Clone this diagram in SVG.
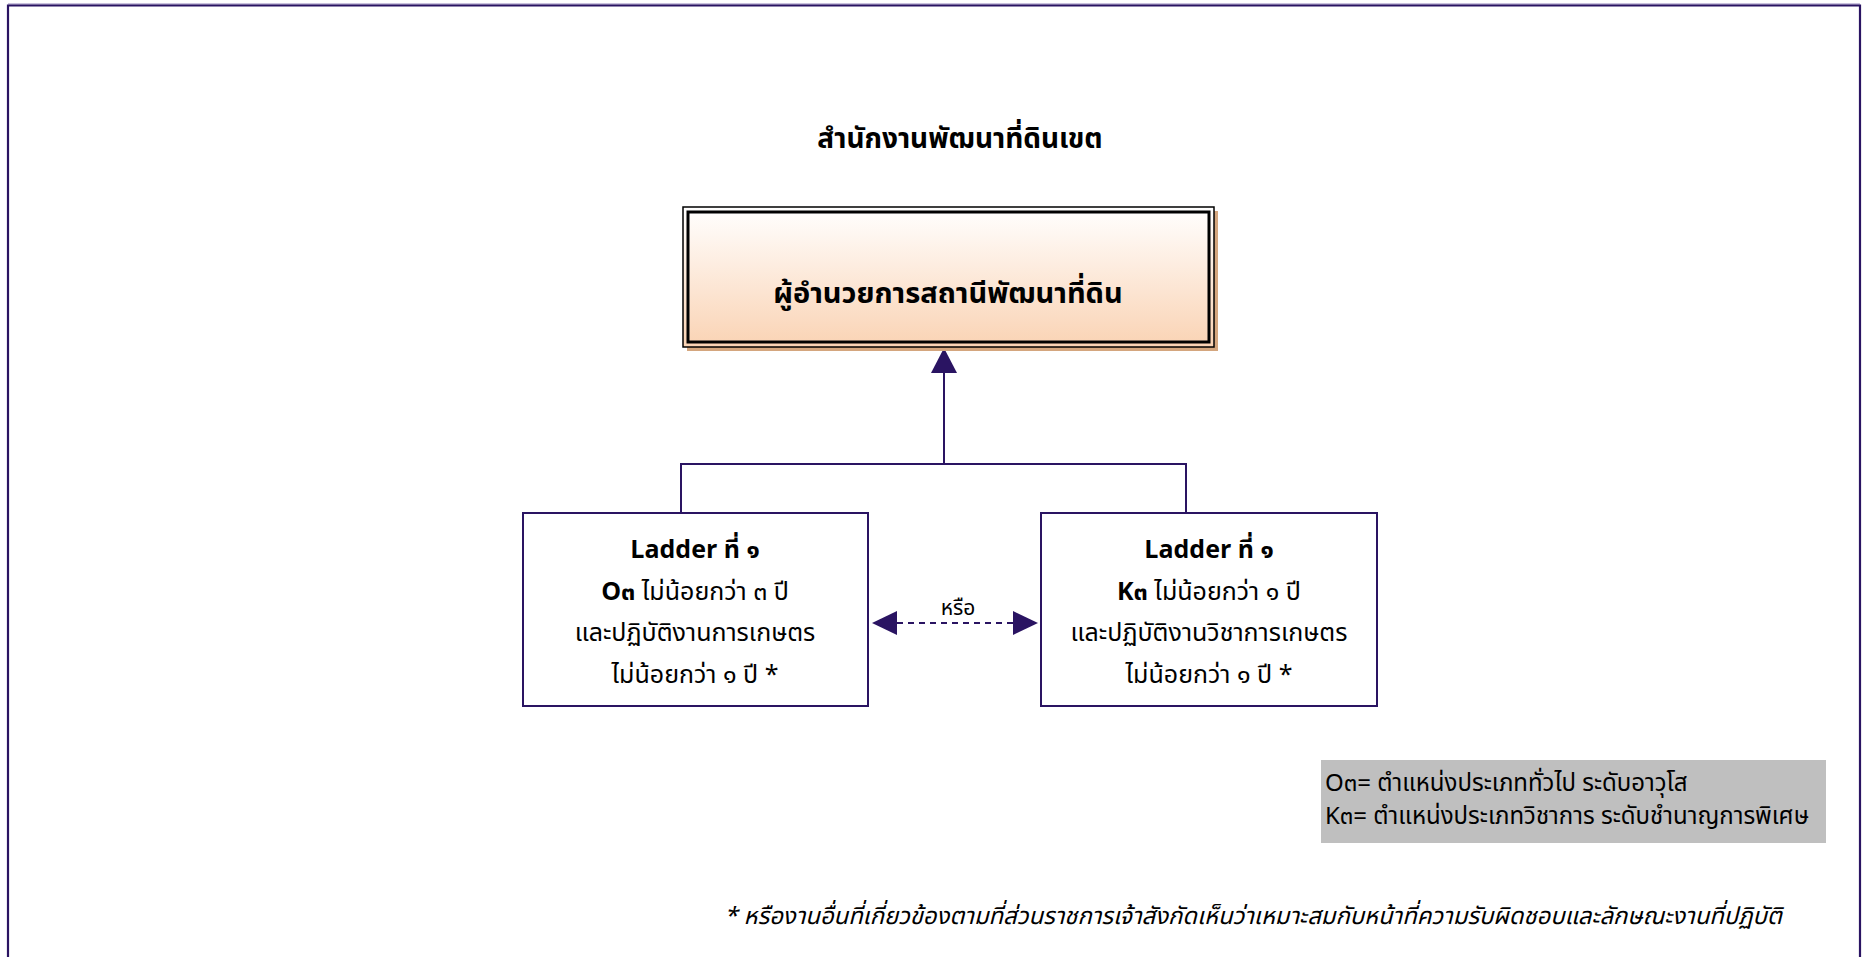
<svg xmlns="http://www.w3.org/2000/svg" width="1863" height="957" viewBox="0 0 1863 957">
<defs>
<linearGradient id="peach" x1="0" y1="0" x2="0" y2="1">
<stop offset="0" stop-color="#FFFFFF"/>
<stop offset="1" stop-color="#FAD3B4"/>
</linearGradient>
<style>
text{font-family:"Noto Sans Thai","Noto Sans","DejaVu Sans",sans-serif;fill:#000}
.b{font-weight:bold}
.box{fill:#fff;stroke:#2A1462;stroke-width:2}
.ln{fill:none;stroke:#2A1462;stroke-width:2}
.c{text-anchor:middle}
.t{font-size:25px}
</style>
</defs>
<rect x="0" y="0" width="1863" height="957" fill="#fff"/>
<g id="frame">
<line x1="8" y1="4" x2="1860" y2="4" stroke="#B9AED3" stroke-width="1.5"/>
<path d="M8,957 V5.5 H1860 V957" fill="none" stroke="#2A1462" stroke-width="2.2"/>
</g>
<g id="title">
<text x="960" y="148" class="b c" font-size="28">สำนักงานพัฒนาที่ดินเขต</text>
</g>
<g id="connectors">
<line x1="944" y1="465" x2="944" y2="350" class="ln"/>
<path d="M944,348 L957,373 L931,373 Z" fill="#2A1462"/>
<path d="M681,513 V464 H1186 V513" class="ln"/>
<line x1="897" y1="623" x2="1013" y2="623" stroke="#2A1462" stroke-width="2" stroke-dasharray="6,5"/>
<path d="M872,623 L897,611 L897,635 Z" fill="#2A1462"/>
<path d="M1038,623 L1013,611 L1013,635 Z" fill="#2A1462"/>
<text x="958" y="615" class="c" font-size="21">หรือ</text>
</g>
<g id="director">
<rect x="687" y="211" width="531" height="140" fill="#D4A67E"/>
<rect x="683" y="207" width="531" height="140" fill="url(#peach)" stroke="#000" stroke-width="1.5"/>
<rect x="688" y="212" width="521" height="130" fill="none" stroke="#000" stroke-width="3"/>
<text x="948" y="303" class="b c" font-size="29">ผู้อำนวยการสถานีพัฒนาที่ดิน</text>
</g>
<g id="ladderO">
<rect x="523" y="513" width="345" height="193" class="box"/>
<text x="695" y="558" class="c t b">Ladder ที่ ๑</text>
<text x="695" y="600" class="c t"><tspan class="b">O๓</tspan> ไม่น้อยกว่า ๓ ปี</text>
<text x="695" y="641" class="c t">และปฏิบัติงานการเกษตร</text>
<text x="695" y="683" class="c t">ไม่น้อยกว่า ๑ ปี *</text>
</g>
<g id="ladderK">
<rect x="1041" y="513" width="336" height="193" class="box"/>
<text x="1209" y="558" class="c t b">Ladder ที่ ๑</text>
<text x="1209" y="600" class="c t"><tspan class="b">K๓</tspan> ไม่น้อยกว่า ๑ ปี</text>
<text x="1209" y="641" class="c t">และปฏิบัติงานวิชาการเกษตร</text>
<text x="1209" y="683" class="c t">ไม่น้อยกว่า ๑ ปี *</text>
</g>
<g id="legend">
<rect x="1321" y="760" width="505" height="83" fill="#BFBFBF"/>
<text x="1325" y="791" font-size="24">O๓= ตำแหน่งประเภททั่วไป ระดับอาวุโส</text>
<text x="1325" y="824" font-size="24">K๓= ตำแหน่งประเภทวิชาการ ระดับชำนาญการพิเศษ</text>
</g>
<g id="footnote">
<text x="1782" y="924" font-size="23.8" font-style="italic" text-anchor="end">* หรืองานอื่นที่เกี่ยวข้องตามที่ส่วนราชการเจ้าสังกัดเห็นว่าเหมาะสมกับหน้าที่ความรับผิดชอบและลักษณะงานที่ปฏิบัติ</text>
</g>
</svg>
